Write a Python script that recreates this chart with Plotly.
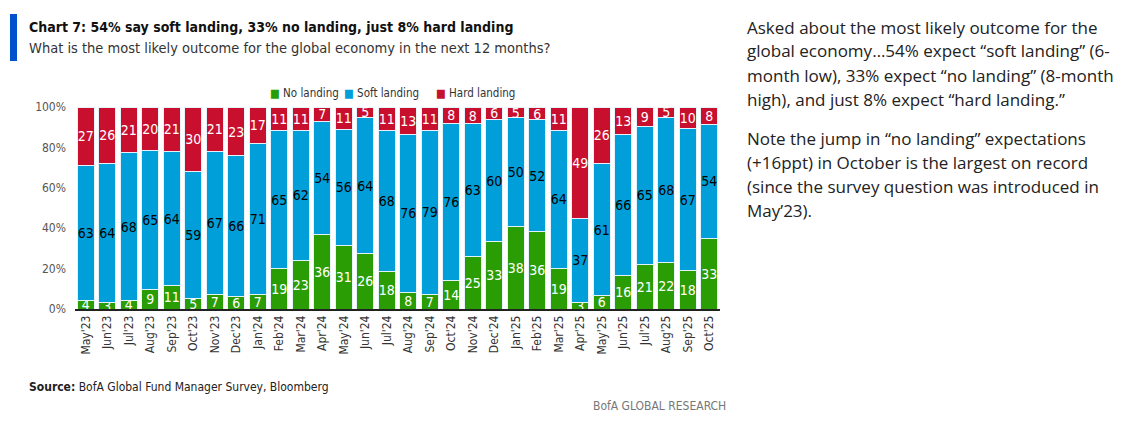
import plotly.graph_objects as go

months = ["May'23", "Jun'23", "Jul'23", "Aug'23", "Sep'23", "Oct'23", "Nov'23", "Dec'23",
          "Jan'24", "Feb'24", "Mar'24", "Apr'24", "May'24", "Jun'24", "Jul'24", "Aug'24",
          "Sep'24", "Oct'24", "Nov'24", "Dec'24", "Jan'25", "Feb'25", "Mar'25", "Apr'25",
          "May'25", "Jun'25", "Jul'25", "Aug'25", "Sep'25", "Oct'25"]
no_landing = [4, 3, 4, 9, 11, 5, 7, 6, 7, 19, 23, 36, 31, 26, 18, 8, 7, 14, 25, 33,
              38, 36, 19, 3, 6, 16, 21, 22, 18, 33]
soft_landing = [63, 64, 68, 65, 64, 59, 67, 66, 71, 65, 62, 54, 56, 64, 68, 76, 79, 76, 63, 60,
                50, 52, 64, 37, 61, 66, 65, 68, 67, 54]
hard_landing = [27, 26, 21, 20, 21, 30, 21, 23, 17, 11, 11, 7, 11, 5, 11, 13, 11, 8, 8, 6,
                5, 6, 11, 49, 26, 13, 9, 5, 10, 8]
y_ticks = [0, 20, 40, 60, 80, 100]
y_ticktext = ['0%', '20%', '40%', '60%', '80%', '100%']

GREEN = '#2a9d05'
BLUE = '#009fda'
RED = '#c8102e'
FONT = 'Liberation Sans Narrow, DejaVu Sans Condensed, sans-serif'

# page puts the plot 8px in from the corner, so work in reference pixels and shift
OFF = 8
W, H = 1137 - OFF, 427 - OFF
L, R, T, B = 75 - OFF, 720 - OFF, 107 - OFF, 309 - OFF

fig = go.Figure()
series = [('No landing', no_landing, GREEN, 'white'),
          ('Soft landing', soft_landing, BLUE, 'black'),
          ('Hard landing', hard_landing, RED, 'white')]
for name, vals, col, tcol in series:
	fig.add_trace(go.Bar(
		name=name, x=months, y=vals, text=vals,
		marker=dict(color=col, line=dict(color='#e6f2fa', width=1)),
		textposition='inside', insidetextanchor='middle', textangle=0,
		constraintext='none', cliponaxis=False,
		textfont=dict(family=FONT, size=14, color=tcol),
	))

fig.update_layout(
	width=W, height=H,
	margin=dict(l=L, r=W - R, t=T, b=H - B, autoexpand=False),
	barmode='stack', barnorm='percent', bargap=0.2,
	plot_bgcolor='white', paper_bgcolor='white',
	showlegend=False,
	font=dict(family=FONT, size=12, color='#444'),
)
fig.update_xaxes(showline=True, linecolor='#222', linewidth=1.5, ticks='',
	tickangle=-90, tickfont=dict(size=12, color='#333'), showgrid=False)
# tiny headroom so rounding at the 100% top doesn't hide the red labels
fig.update_yaxes(range=[0, 100.05], tickvals=y_ticks, ticktext=y_ticktext, showgrid=False,
	zeroline=False, showline=False, tickfont=dict(size=12, color='#555'), ticklabelstandoff=8)

def xp(x):
	return (x - OFF - L) / (R - L)

def yp(y):
	return (B - (y - OFF)) / (B - T)

# header marker
fig.add_shape(type='rect', xref='paper', yref='paper', x0=xp(10), x1=xp(17),
	y0=yp(61), y1=yp(14), fillcolor='#0052cc', line_width=0)

def ann(text, x, y, size, color='#222', anchor='left', family=FONT):
	fig.add_annotation(text=text, xref='paper', yref='paper',
		x=xp(x), y=yp(y), xanchor=anchor, yanchor='middle',
		showarrow=False, align=anchor, font=dict(family=family, size=size, color=color))

ann('<b>Chart 7: 54% say soft landing, 33% no landing, just 8% hard landing</b>', 27, 27, 14, '#111')
ann('What is the most likely outcome for the global economy in the next 12 months?', 27, 48, 14.5, '#333')

# legend
leg_x = [268, 342, 434]
for (name, vals, col, tcol), lx in zip(series, leg_x):
	ann('<span style="color:%s">■</span> %s' % (col, name), lx, 93, 11.5, '#333')

ann('<b>Source:</b> BofA Global Fund Manager Survey, Bloomberg', 27, 387, 12, '#222')
ann('BofA GLOBAL RESEARCH', 728, 406, 12, '#777', anchor='right')

# side commentary
side = ['Asked about the most likely outcome for the',
        'global economy…54% expect “soft landing” (6-',
        'month low), 33% expect “no landing” (8-month',
        'high), and just 8% expect “hard landing.”',
        'Note the jump in “no landing” expectations',
        '(+16ppt) in October is the largest on record',
        '(since the survey question was introduced in',
        'May’23).']
side_y = [27, 51, 75, 99, 138, 162, 186, 210]
for s, sy in zip(side, side_y):
	ann(s, 745, sy, 17, '#222', family='Open Sans')

fig.write_html('out.html')
